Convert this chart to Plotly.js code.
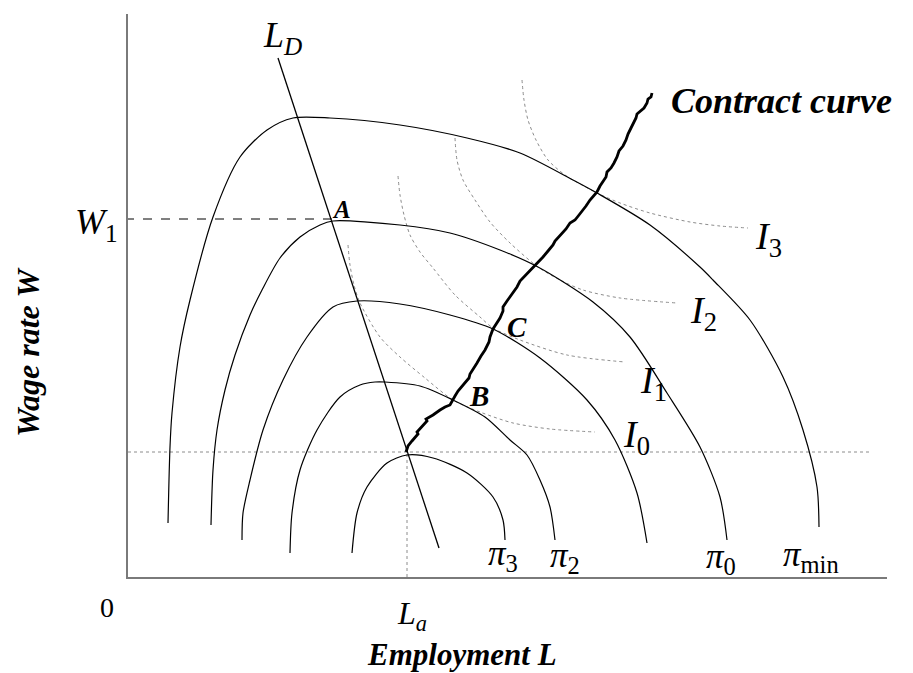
<!DOCTYPE html>
<html>
<head>
<meta charset="utf-8">
<script src="https://cdn.plot.ly/plotly-3.0.1.min.js"></script>
<style>html,body{margin:0;padding:0;background:#fff;}</style>
</head>
<body>
<div id="chart" style="width:913px;height:673px;"></div>
<script>
// Iso-profit curves (employment L, wage W)
const piMinL = [40,42,44,52,62,85,112,139,165,202,272,339,392,445,469,522,572,585,622,655,675,689,691];
const piMinW = [54,130,164,230,277,360,420,447,459,459,452,439,424,397,384,352,310,297,257,200,147,90,50];
const pi0L = [83,85,89,97,107,122,134,152,172,192,205,272,322,372,410,465,502,539,572,592,599];
const pi0W = [52,107,147,187,222,262,287,319,340,352,356,352,344,327,310,275,240,184,130,80,37];
const pi1L = [114,115,122,135,155,179,205,229,272,322,365,412,459,487,509,519];
const pi1W = [37,64,97,147,197,240,270,276,273,262,248,219,177,137,84,34];
const pi2L = [162,164,172,189,212,232,247,257,292,325,357,382,399,412,422,427];
const pi2W = [24,64,107,147,180,192,195,195,191,177,160,137,122,97,70,37];
const pi3L = [224,229,239,259,279,305,339,365,375,377];
const pi3W = [24,64,90,114,122,119,104,80,57,37];

// Union indifference curves
const i3L = [394,396,400,408,420,437,454,469,492,522,562,592,620];
const i3W = [497,477,457,437,417,402,392,384,374,364,355,351,349];
const i2L = [327,329,335,347,362,382,410,432,455,492,549];
const i2W = [439,417,397,377,355,334,310,297,287,279,274];
const i1L = [270,272,276,282,292,305,327,352,365,392,439,497];
const i1W = [401,382,362,342,325,309,282,260,249,237,222,215];
const i0L = [220,222,226,232,252,272,297,325,352,385,422,467];
const i0W = [332,312,292,274,240,220,199,177,165,154,148,145];

// Labour demand curve
const ldL = [150,311];
const ldW = [519,29];

// Contract curve (hand-drawn, slightly wiggly)
const ccL = [278,280,284,290,289,295,299,298,305,312,317,322,324,327,330,334,338,341,342,346,349,353,357,361,362,365,369,372,375,375,379,385,389,392,397,401,405,410,415,420,425,427,432,435,438,442,447,451,455,458,462,466,469,472,475,478,479,483,486,489,491,495,498,500,503,505,508,509,513,516,519,520,523,524];
const ccW = [125,131,136,143,145,151,156,158,162,167,170,172,176,181,186,191,196,199,203,209,214,221,227,235,240,248,255,259,266,270,276,284,290,296,301,306,310,314,320,326,332,336,341,344,348,354,357,362,367,371,377,381,385,391,396,400,405,409,414,420,426,431,437,443,449,453,459,463,466,469,474,478,480,484];

// Reference levels
const W1 = 358;
const A_L = 205;
const La = 279;
const Wa = 125;
const Lmax = 743;

// Axis ranges
const xRange = [0, 759];
const yRange = [0, 563];

const black = '#000';
const solid = {color: black, width: 1.2, shape: 'spline', smoothing: 0.8};
const dotted = {color: '#8c8c8c', width: 1, dash: 'dot', shape: 'spline', smoothing: 0.8};

function tr(x, y, line) {
  return {x: x, y: y, type: 'scatter', mode: 'lines', line: line, hoverinfo: 'skip', showlegend: false};
}

const data = [
  tr([0, Lmax], [Wa, Wa], {color: '#8c8c8c', width: 1, dash: 'dot'}),
  tr([La, La], [0, Wa], {color: '#8c8c8c', width: 1, dash: 'dot'}),
  tr([-3, A_L], [W1, W1], {color: black, width: 1, dash: 'dash'}),
  tr(i3L, i3W, dotted),
  tr(i2L, i2W, dotted),
  tr(i1L, i1W, dotted),
  tr(i0L, i0W, dotted),
  tr(piMinL, piMinW, solid),
  tr(pi0L, pi0W, solid),
  tr(pi1L, pi1W, solid),
  tr(pi2L, pi2W, solid),
  tr(pi3L, pi3W, solid),
  tr(ldL, ldW, {color: black, width: 1.3}),
  tr(ccL, ccW, {color: black, width: 2.8})
];

const F = "'Liberation Serif', 'Times New Roman', serif";
function ann(text, x, y, size, extra) {
  return Object.assign({text: text, x: x, y: y, xref: 'x', yref: 'y', showarrow: false,
    xanchor: 'center', yanchor: 'middle',
    font: {family: F, size: size, color: black}}, extra || {});
}
// labels that sit outside the plotting area: placed in paper units
function annOut(text, x, y, size, extra) {
  return Object.assign({text: text,
    x: (x - xRange[0]) / (xRange[1] - xRange[0]),
    y: (y - yRange[0]) / (yRange[1] - yRange[0]),
    xref: 'paper', yref: 'paper', showarrow: false,
    xanchor: 'center', yanchor: 'middle',
    font: {family: F, size: size, color: black}}, extra || {});
}

const annotations = [
  ann('<b><i>Contract curve</i></b>', 541, 476, 36, {xanchor: 'left'}),
  ann('<i>L<sub>D</sub></i>', 154, 540, 36),
  ann('<b><i>A</i></b>', 213, 368, 25),
  ann('<b><i>B</i></b>', 351, 181, 29),
  ann('<b><i>C</i></b>', 389, 250, 29),
  ann('<i>I</i><sub>3</sub>', 640, 338, 38),
  ann('<i>I</i><sub>2</sub>', 575, 264, 38),
  ann('<i>I</i><sub>1</sub>', 525, 194, 38),
  ann('<i>I</i><sub>0</sub>', 508, 140, 38),
  ann('<i>π</i><sub>3</sub>', 375, 22, 35),
  ann('<i>π</i><sub>2</sub>', 437, 20, 35),
  ann('<i>π</i><sub>0</sub>', 593, 19, 35),
  ann('<i>π</i><sub>min</sub>', 683, 21, 35),
  annOut('<i>W</i><sub>1</sub>', -32, 352, 36),
  annOut('0', -21, -30, 28),
  annOut('<i>L<sub>a</sub></i>', 284, -38, 32),
  annOut('<b><i>Employment L</i></b>', 334, -77, 31),
  annOut('<b><i>Wage rate W</i></b>', -100, 225, 32, {textangle: -90})
];

const layout = {
  width: 913, height: 673,
  margin: {l: 128, r: 26, t: 14, b: 96},
  paper_bgcolor: '#fff', plot_bgcolor: '#fff',
  showlegend: false,
  xaxis: {range: xRange, showgrid: false, zeroline: false, showticklabels: false, ticks: '',
    showline: true, linecolor: '#7a7a7a', linewidth: 2, fixedrange: true},
  yaxis: {range: yRange, showgrid: false, zeroline: false, showticklabels: false, ticks: '',
    showline: true, linecolor: '#7a7a7a', linewidth: 2, fixedrange: true},
  annotations: annotations
};

Plotly.newPlot('chart', data, layout, {displayModeBar: false, staticPlot: true});
</script>
</body>
</html>
